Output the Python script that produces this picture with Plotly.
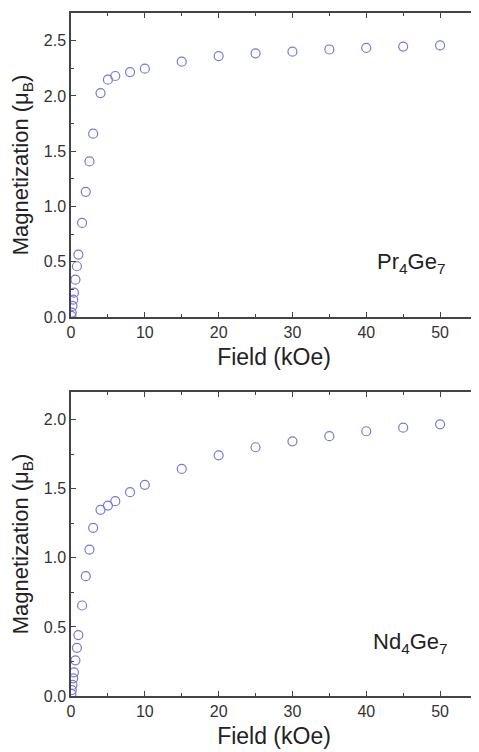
import plotly.graph_objects as go

field = [0.05, 0.1, 0.2, 0.3, 0.4, 0.6, 0.8, 1.0, 1.5, 2, 2.5, 3, 4, 5, 6, 8, 10, 15, 20, 25, 30, 35, 40, 45, 50]
m_pr = [0.01, 0.04, 0.10, 0.157, 0.22, 0.338, 0.459, 0.565, 0.851, 1.132, 1.407, 1.658, 2.026, 2.147, 2.18, 2.216, 2.246, 2.31, 2.36, 2.385, 2.40, 2.42, 2.434, 2.446, 2.458]
m_nd = [0.015, 0.043, 0.08, 0.128, 0.171, 0.258, 0.349, 0.441, 0.655, 0.867, 1.06, 1.217, 1.347, 1.378, 1.41, 1.475, 1.528, 1.643, 1.742, 1.80, 1.843, 1.88, 1.916, 1.942, 1.966]
labels = ["Pr<sub>4</sub>Ge<sub>7</sub>", "Nd<sub>4</sub>Ge<sub>7</sub>"]

col = "#7878d8"
font = "Liberation Sans, Arial, sans-serif"
axcol = "#444444"

fig = go.Figure()
fig.add_trace(go.Scatter(x=field, y=m_pr, mode="markers", xaxis="x", yaxis="y",
                         marker=dict(symbol="circle-open", size=9, color=col, line=dict(width=1.2, color=col)),
                         showlegend=False))
fig.add_trace(go.Scatter(x=field, y=m_nd, mode="markers", xaxis="x2", yaxis="y2",
                         marker=dict(symbol="circle-open", size=9, color=col, line=dict(width=1.2, color=col)),
                         showlegend=False))

def xax(anchor):
    return dict(anchor=anchor, domain=[0, 1], range=[0, 55], dtick=10, tick0=0,
                automargin=False,
                showline=True, linecolor=axcol, linewidth=1.5, mirror="ticks",
                ticks="inside", ticklen=5, tickcolor=axcol, tickwidth=1,
                minor=dict(dtick=5, ticks="inside", ticklen=3, tickcolor=axcol),
                showgrid=False, zeroline=False,
                tickfont=dict(family=font, size=16, color="#333"),
                title=dict(text="Field (kOe)", font=dict(family=font, size=23, color="#222"), standoff=9))

def yax(anchor, dom, rng):
    return dict(anchor=anchor, domain=dom, range=rng, dtick=0.5, tick0=0, tickformat=".1f",
                automargin=False,
                showline=True, linecolor=axcol, linewidth=1.5, mirror="ticks",
                ticks="inside", ticklen=5, tickcolor=axcol, tickwidth=1,
                minor=dict(dtick=0.25, ticks="inside", ticklen=3, tickcolor=axcol),
                showgrid=False, zeroline=False,
                tickfont=dict(family=font, size=16, color="#333"),
                title=dict(text="Magnetization (μ<sub>B</sub>)", font=dict(family=font, size=22, color="#222"), standoff=10))

# page body adds an 8px offset; compensate so the plot lands where the reference has it
fig.update_layout(
    width=471, height=744,
    margin=dict(l=63, r=2, t=5, b=56),
    plot_bgcolor="white", paper_bgcolor="white",
    xaxis=xax("y"), yaxis=yax("x", [0.5549, 1.0], [0, 2.75]),
    xaxis2=xax("y2"), yaxis2=yax("x2", [0.0, 0.4451], [0, 2.2]),
    annotations=[
        dict(x=46.1, y=0.49, xref="x", yref="y", text=labels[0], showarrow=False,
             font=dict(family=font, size=22, color="#222")),
        dict(x=46, y=0.38, xref="x2", yref="y2", text=labels[1], showarrow=False,
             font=dict(family=font, size=22, color="#222")),
    ],
)

fig.write_html("out.html")
